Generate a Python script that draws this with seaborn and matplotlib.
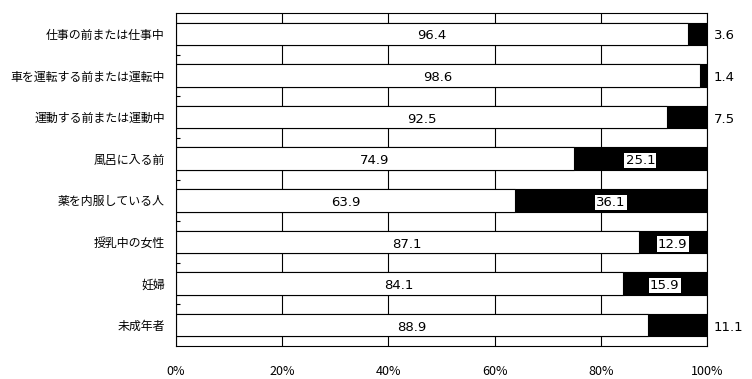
import matplotlib
matplotlib.use("Agg")
import matplotlib.pyplot as plt
import seaborn as sns
import pandas as pd
from matplotlib.ticker import FixedLocator

categories = ['仕事の前または仕事中', '車を運転する前または運転中', '運動する前または運動中',
              '風呂に入る前', '薬を内服している人', '授乳中の女性', '妊婦', '未成年者']
white_vals = [96.4, 98.6, 92.5, 74.9, 63.9, 87.1, 84.1, 88.9]
black_vals = [3.6, 1.4, 7.5, 25.1, 36.1, 12.9, 15.9, 11.1]
xtick_labels = ['0%', '20%', '40%', '60%', '80%', '100%']

sns.set_theme(style="white")
plt.rcParams['font.family'] = ['Noto Sans CJK JP', 'DejaVu Sans']
plt.rcParams['text.color'] = 'black'
plt.rcParams['xtick.color'] = 'black'
plt.rcParams['ytick.color'] = 'black'
plt.rcParams['xtick.labelcolor'] = 'black'
plt.rcParams['ytick.labelcolor'] = 'black'

df = pd.DataFrame({'cat': categories, 'white': white_vals, 'black': black_vals})
df['total'] = df['white'] + df['black']

fig = plt.figure(figsize=(7.52, 3.79), dpi=100)
ax = fig.add_axes([176/752, 1-346/379, (707-176)/752, (346-13)/379])

sns.barplot(data=df, y='cat', x='total', color='black', edgecolor='black',
            linewidth=0.8, width=0.54, ax=ax, orient='h', saturation=1)
sns.barplot(data=df, y='cat', x='white', color='white', edgecolor='black',
            linewidth=0.8, width=0.54, ax=ax, orient='h', saturation=1)

ax.set_xlim(0, 100)
ax.set_ylim(len(categories) - 0.5, -0.5)
ax.set_xticks([0, 20, 40, 60, 80, 100])
ax.set_xticklabels(xtick_labels, fontsize=9)
ax.set_xlabel('')
ax.set_ylabel('')
ax.tick_params(axis='x', length=0, pad=14, labelcolor='black')
ax.tick_params(axis='y', which='major', length=0, pad=8, labelsize=8.6, labelcolor='black')
ax.yaxis.set_minor_locator(FixedLocator([i + 0.5 for i in range(len(categories) - 1)]))
ax.tick_params(axis='y', which='minor', direction='in', length=3, width=0.8, color='black', left=True)

ax.set_axisbelow(True)
ax.xaxis.grid(True, color='black', linewidth=0.8)
ax.yaxis.grid(False)
for s in ax.spines.values():
    s.set_visible(True)
    s.set_color('black')
    s.set_linewidth(0.8)

for i, (w, b) in enumerate(zip(white_vals, black_vals)):
    ax.text(w / 2, i + 0.05, f'{w:.1f}', ha='center', va='center', fontsize=9.5,
            family='DejaVu Sans', color='black', zorder=5)
    if b >= 12:
        ax.text(w + b / 2, i + 0.05, f'{b:.1f}', ha='center', va='center', fontsize=9.5,
                family='DejaVu Sans', color='black', zorder=5,
                bbox=dict(facecolor='white', edgecolor='none', pad=0.8))
    else:
        ax.text(101.3, i + 0.05, f'{b:.1f}', ha='left', va='center', fontsize=9.5,
                family='DejaVu Sans', color='black', zorder=5, clip_on=False)

fig.savefig('out.png', dpi=100, facecolor='white')
